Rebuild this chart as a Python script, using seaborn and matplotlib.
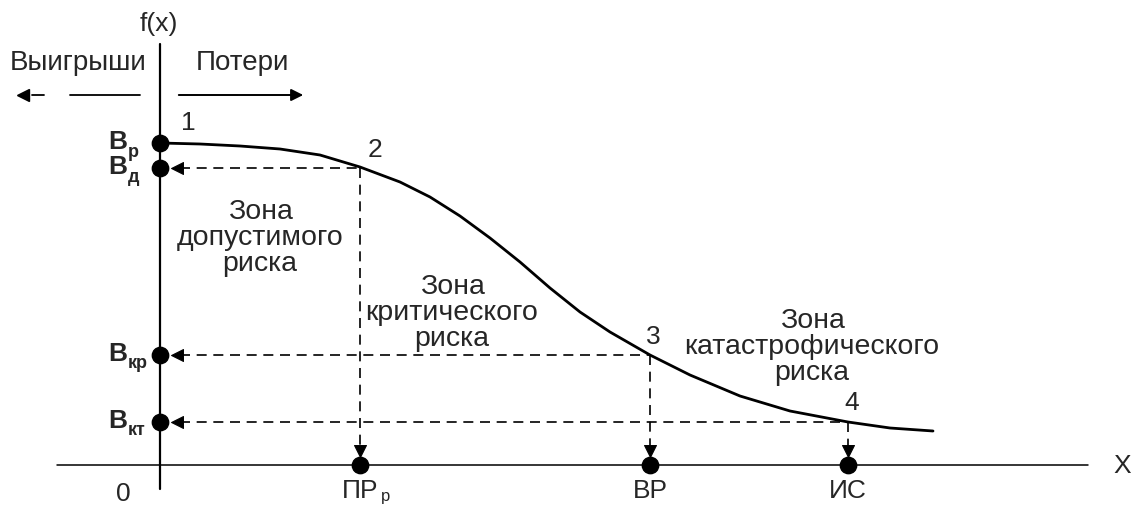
import numpy as np
import pandas as pd
import matplotlib.pyplot as plt
import seaborn as sns

# risk curve f(x) (pixel-like units, y grows down)
curve_x = [160, 200, 240, 280, 320, 360, 400, 430, 460, 490, 520, 550, 580, 610, 650, 690, 740, 790, 848, 890, 933]
curve_y = [144, 145, 147, 150, 156, 168, 183, 198, 217, 239, 263, 289, 313, 333, 356, 376, 397, 412, 423, 429, 432]

# numbered points on the curve
point_nums = ['1', '2', '3', '4']
point_x = [160, 360, 650, 848]
point_y = [144, 169, 356, 423]

# levels on the f(x) axis
level_main = ['В', 'В', 'В', 'В']
level_sub = ['р', 'д', 'кр', 'кт']
level_y = [144, 169, 356, 423]

# marks on the X axis
mark_x = [360, 650, 848]
mark_main = ['ПР', 'ВР', 'ИС']
mark_sub = ['р', '', '']

zones = ['Зона\nдопустимого\nриска', 'Зона\nкритического\nриска', 'Зона\nкатастрофического\nриска']
zone_x = [260, 452, 812]
zone_y = [238, 313, 347]

sns.set_style('white')
plt.rcParams['font.family'] = ['Liberation Sans', 'DejaVu Sans']

fig = plt.figure(figsize=(11.31, 5.06), dpi=100)
ax = fig.add_axes([0, 0, 1, 1])
ax.set_xlim(0, 1131)
ax.set_ylim(506, 0)
ax.axis('off')

# axes of the diagram
ax.plot([160, 160], [45, 490], color='black', lw=1.6)
ax.plot([57, 1088], [466, 466], color='black', lw=1.1)
ax.text(159, 24, 'f(x)', fontsize=19, ha='center', va='center')
ax.text(1122, 466, 'X', fontsize=19, ha='center', va='center')
ax.text(123, 494, '0', fontsize=19, ha='center', va='center')

# gains / losses
ax.text(78, 63, 'Выигрыши', fontsize=20, ha='center', va='center')
ax.text(242, 63, 'Потери', fontsize=20, ha='center', va='center')
ax.plot([140, 70], [96, 96], color='black', lw=1.3)
ax.plot([44, 32], [96, 96], color='black', lw=1.3)
ax.plot([23], [96], marker='<', ms=8, color='black')
ax.annotate('', xy=(306, 96), xytext=(176, 96),
            arrowprops=dict(arrowstyle='-|>', color='black', lw=1.4, mutation_scale=18))

# dashed projections
for px, py in zip(point_x[1:], point_y[1:]):
    ax.plot([180, px], [py, py], color='black', lw=1.2, ls=(0, (6, 4)))
    ax.plot([px, px], [py, 450], color='black', lw=1.2, ls=(0, (6, 4)))
sns.scatterplot(x=[177] * 3, y=level_y[1:], marker='<', s=75, color='black', edgecolor='black', ax=ax)
sns.scatterplot(x=mark_x, y=[452] * 3, marker='v', s=75, color='black', edgecolor='black', ax=ax)

# curve
sns.lineplot(x=curve_x, y=curve_y, sort=False, estimator=None, color='black', lw=2, ax=ax)

# dots
sns.scatterplot(x=[160] * 4, y=level_y, s=140, color='black', edgecolor='black', ax=ax)
sns.scatterplot(x=mark_x, y=[466] * 3, s=140, color='black', edgecolor='black', ax=ax)

num_offsets = [(28, -21), (15, -19), (3, -19), (4, -20)]
for num, px, py, (dx, dy) in zip(point_nums, point_x, point_y, num_offsets):
    ax.text(px + dx, py + dy, num, fontsize=19, ha='center', va='center')

for m, s, ly in zip(level_main, level_sub, level_y):
    ax.text(127, ly - 2, m, fontsize=19, fontweight='bold', ha='right', va='center')
    ax.text(128, ly + 8, s, fontsize=13, fontweight='bold', ha='left', va='center')

for m, s, mx in zip(mark_main, mark_sub, mark_x):
    ax.text(mx, 491, m, fontsize=19, ha='center', va='center')
    if s:
        ax.text(mx + 21, 497, s, fontsize=12, ha='left', va='center')

for z, zx, zy in zip(zones, zone_x, zone_y):
    ax.text(zx, zy, z, fontsize=20.5, ha='center', va='center', linespacing=1.0)

fig.savefig('out.png', dpi=100)
